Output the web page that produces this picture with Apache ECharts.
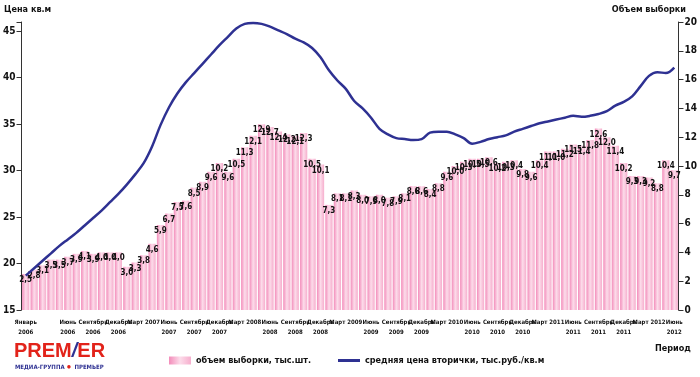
<!DOCTYPE html>
<html>
<head>
<meta charset="utf-8">
<script src="https://cdn.jsdelivr.net/npm/echarts@6/dist/echarts.min.js"></script>
<style>
    html, body { margin: 0; padding: 0; background: #fff; }
    #chart { width: 700px; height: 377px; }
</style>
</head>
<body>
<div id="chart"></div>
<script>
'use strict';

// подписи месяцев
var monthNames = ['Январь', 'Февраль', 'Март', 'Апрель', 'Май', 'Июнь',
    'Июль', 'Август', 'Сентябрь', 'Октябрь', 'Ноябрь', 'Декабрь'];
var years = [2006, 2007, 2008, 2009, 2010, 2011, 2012];

// объем выборки, тыс.шт. (правая ось)
var volume2006 = [2.5, 2.8, 3.1, 3.5, 3.5, 3.7, 3.9, 4.1, 3.9, 4.0, 4.0, 4.0];
var volume2007 = [3.0, 3.3, 3.8, 4.6, 5.9, 6.7, 7.5, 7.6, 8.5, 8.9, 9.6, 10.2];
var volume2008 = [9.6, 10.5, 11.3, 12.1, 12.9, 12.7, 12.4, 12.2, 12.1, 12.3, 10.5, 10.1];
var volume2009 = [7.3, 8.1, 8.1, 8.3, 8.0, 7.9, 8.0, 7.8, 7.9, 8.1, 8.6, 8.6];
var volume2010 = [8.4, 8.8, 9.6, 10.0, 10.3, 10.5, 10.5, 10.6, 10.2, 10.3, 10.4, 9.8];
var volume2011 = [9.6, 10.4, 11.0, 11.0, 11.2, 11.5, 11.4, 11.8, 12.6, 12.0, 11.4, 10.2];
var volume2012 = [9.3, 9.3, 9.2, 8.8, 10.4, 9.7];

// средняя цена вторички, тыс.руб./кв.м (левая ось)
var price2006 = [18.7, 19.5, 20.3, 21.1, 21.9, 22.6, 23.3, 24.1, 24.9, 25.7, 26.6, 27.5];
var price2007 = [28.5, 29.6, 30.8, 32.6, 34.9, 36.8, 38.3, 39.5, 40.5, 41.5, 42.5, 43.5];
var price2008 = [44.4, 45.3, 45.8, 45.9, 45.8, 45.5, 45.1, 44.7, 44.2, 43.8, 43.2, 42.2];
var price2009 = [40.8, 39.7, 38.8, 37.5, 36.7, 35.7, 34.5, 33.9, 33.5, 33.4, 33.3, 33.4];
var price2010 = [34.1, 34.2, 34.2, 33.9, 33.5, 32.9, 33.1, 33.4, 33.6, 33.8, 34.2, 34.5];
var price2011 = [34.8, 35.1, 35.3, 35.5, 35.7, 35.9, 35.8, 35.9, 36.1, 36.4, 37.0, 37.4];
var price2012 = [38.0, 39.1, 40.2, 40.6, 40.5, 41.1];

var volumeData = [].concat(volume2006, volume2007, volume2008, volume2009, volume2010, volume2011, volume2012);
var priceData = [].concat(price2006, price2007, price2008, price2009, price2010, price2011, price2012);

var categories = [];
for (var i = 0; i < volumeData.length; i++) {
    categories.push(monthNames[i % 12] + ' ' + years[Math.floor(i / 12)]);
}

var colorType = {
    line: '#2e3192',
    text: '#111',
    axis: '#333'
};

var narrow = '"DejaVu Sans Condensed", "Liberation Sans Narrow", "Liberation Sans", sans-serif';
var plain = '"Liberation Sans", Arial, sans-serif';

var myChart = echarts.init(document.getElementById('chart'));
var option = {
    animation: false,
    backgroundColor: '#fff',
    grid: {
        left: 20,
        right: 17,
        top: 22,
        bottom: 67
    },
    legend: [{
        left: 164,
        top: 351,
        itemWidth: 22,
        itemHeight: 8,
        itemGap: 4,
        selectedMode: false,
        textStyle: { fontFamily: narrow, fontWeight: 'bold', fontSize: 9, color: colorType.text },
        data: [{ name: 'объем выборки, тыс.шт.', icon: 'rect' }]
    }, {
        left: 333,
        top: 351,
        itemWidth: 22,
        itemHeight: 3,
        selectedMode: false,
        textStyle: { fontFamily: narrow, fontWeight: 'bold', fontSize: 9, color: colorType.text },
        data: [{ name: 'средняя цена вторички, тыс.руб./кв.м', icon: 'rect' }]
    }],
    graphic: [
        { type: 'text', left: 4, top: 5, style: { text: 'Цена кв.м', font: 'bold 9px ' + narrow, fill: colorType.text } },
        { type: 'text', right: 14, top: 5, style: { text: 'Объем выборки', font: 'bold 9px ' + narrow, fill: colorType.text } },
        { type: 'text', left: 655, top: 344, style: { text: 'Период', font: 'bold 9px ' + narrow, fill: colorType.text } },
        // логотип
        {
            type: 'text', left: 14, top: 341,
            style: {
                text: '{r|PREM}{b|/}{r|ER}',
                rich: {
                    r: { font: 'bold 20px ' + plain, fill: '#e2231a' },
                    b: { font: 'bold italic 20px ' + plain, fill: '#2e3192' }
                }
            }
        },
        {
            type: 'text', left: 15, top: 363,
            style: {
                text: '{t|МЕДИА-ГРУППА}{d|●}{t|ПРЕМЬЕР}',
                rich: {
                    t: { font: 'bold 6px ' + narrow, fill: '#2e3192', padding: [0, 2, 0, 0] },
                    d: { font: 'bold 8px sans-serif', fill: '#e2231a', padding: [0, 3, 0, 0] }
                }
            }
        }
    ],
    xAxis: {
        type: 'category',
        data: categories,
        boundaryGap: true,
        axisLine: { show: false },
        axisTick: { show: false },
        splitLine: { show: false },
        axisLabel: {
            interval: function (index) {
                return index === 0 || index % 3 === 2;
            },
            showMinLabel: true,
            margin: 7,
            lineHeight: 10,
            fontFamily: narrow,
            fontWeight: 'bold',
            fontSize: 6,
            color: colorType.text,
            formatter: function (value) {
                var parts = value.split(' ');
                if (parts[0] === 'Март') return value;
                return parts[0] + '\n' + parts[1];
            }
        }
    },
    yAxis: [{
        type: 'value',
        position: 'left',
        min: 15,
        max: 46,
        interval: 5,
        splitLine: { show: false },
        axisLine: { show: true, lineStyle: { color: colorType.axis, width: 1 } },
        axisTick: { show: true, length: 5, lineStyle: { color: colorType.axis } },
        axisLabel: {
            margin: 6,
            fontFamily: narrow,
            fontWeight: 'bold',
            fontSize: 10,
            color: colorType.text,
            formatter: function (v) { return v % 5 === 0 ? v : ''; }
        }
    }, {
        type: 'value',
        position: 'right',
        min: 0,
        max: 20,
        interval: 2,
        splitLine: { show: false },
        axisLine: { show: true, lineStyle: { color: colorType.axis, width: 1 } },
        axisTick: { show: true, length: 5, lineStyle: { color: colorType.axis } },
        axisLabel: {
            margin: 6,
            fontFamily: narrow,
            fontWeight: 'bold',
            fontSize: 10,
            color: colorType.text
        }
    }],
    series: [{
        name: 'объем выборки, тыс.шт.',
        type: 'bar',
        yAxisIndex: 1,
        barCategoryGap: '14%',
        data: volumeData,
        itemStyle: {
            color: new echarts.graphic.LinearGradient(0, 0, 1, 0, [
                { offset: 0, color: '#f38cba' },
                { offset: 0.5, color: '#fcdcea' },
                { offset: 1, color: '#f6aecd' }
            ], false)
        },
        label: {
            show: true,
            position: 'insideTop',
            distance: 2,
            fontFamily: narrow,
            fontWeight: 'bold',
            fontSize: 8,
            color: colorType.text,
            formatter: function (p) {
                return p.value.toFixed(1).replace('.', ',');
            }
        }
    }, {
        name: 'средняя цена вторички, тыс.руб./кв.м',
        type: 'line',
        yAxisIndex: 0,
        smooth: 0.35,
        showSymbol: false,
        data: priceData,
        z: 5,
        itemStyle: { color: colorType.line },
        lineStyle: { color: colorType.line, width: 2.5 }
    }]
};
myChart.setOption(option);
</script>
</body>
</html>
